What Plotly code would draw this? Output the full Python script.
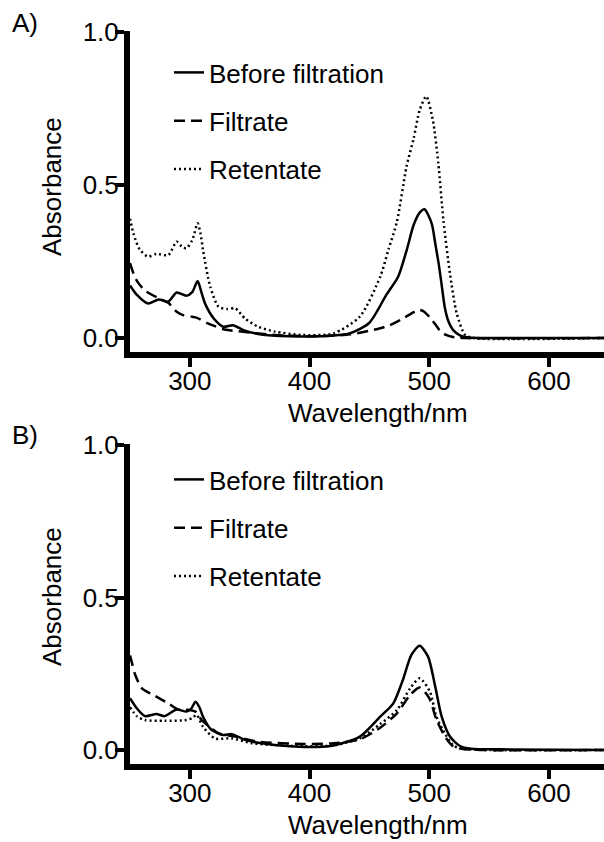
import plotly.graph_objects as go

# ---------------- Data ----------------
# Panel A
a_before_wl = [250, 256, 265, 274, 282, 289, 297, 302, 306.5, 310, 313, 320, 328, 336, 346, 363, 393, 420, 434, 450, 464, 474, 481, 487, 492, 496, 502, 505, 508, 510.5, 513, 516, 520, 526, 533, 560, 646]
a_before_abs = [0.172, 0.14, 0.113, 0.126, 0.119, 0.149, 0.138, 0.15, 0.186, 0.145, 0.11, 0.064, 0.037, 0.042, 0.024, 0.01, 0.005, 0.008, 0.016, 0.05, 0.14, 0.2, 0.285, 0.37, 0.41, 0.421, 0.375, 0.31, 0.24, 0.17, 0.10, 0.055, 0.026, 0.008, 0.002, 0.0, 0.0]

a_filtrate_wl = [250, 253, 256, 262.5, 274, 282, 289, 295, 301.5, 306, 315, 329, 343, 371, 400, 434, 459, 467, 476, 485, 491, 495, 500.6, 505, 509, 514, 519, 530, 646]
a_filtrate_abs = [0.245, 0.21, 0.185, 0.155, 0.13, 0.115, 0.086, 0.074, 0.07, 0.066, 0.048, 0.028, 0.021, 0.01, 0.006, 0.012, 0.032, 0.042, 0.059, 0.08, 0.092, 0.088, 0.067, 0.045, 0.024, 0.01, 0.004, 0.0, 0.0]

a_retentate_wl = [250, 253, 258, 265, 272, 282, 289, 293, 297, 302, 306.5, 309, 311, 317, 324, 331, 338, 346, 357, 371, 393, 420, 442, 459, 466, 473, 481, 487, 492, 497.5, 503, 507.6, 511.8, 517.3, 523, 530, 537, 646]
a_retentate_abs = [0.39, 0.34, 0.29, 0.266, 0.275, 0.271, 0.315, 0.3, 0.293, 0.32, 0.375, 0.34, 0.288, 0.168, 0.102, 0.095, 0.097, 0.064, 0.037, 0.021, 0.01, 0.015, 0.07, 0.2, 0.29, 0.38, 0.56, 0.653, 0.745, 0.79, 0.712, 0.571, 0.386, 0.211, 0.08, 0.01, 0.0, 0.0]

# Panel B
b_before_wl = [250, 256, 262.5, 272, 279, 289, 297, 301, 304.8, 308, 311, 318, 328, 335, 346, 371, 396, 420, 442, 459, 470, 478, 485, 492, 499, 505, 510.4, 517.3, 525.7, 535, 560, 646]
b_before_abs = [0.17, 0.135, 0.111, 0.118, 0.111, 0.133, 0.126, 0.135, 0.158, 0.14, 0.109, 0.066, 0.049, 0.052, 0.033, 0.016, 0.01, 0.015, 0.044, 0.109, 0.153, 0.23, 0.311, 0.342, 0.306, 0.208, 0.109, 0.044, 0.013, 0.004, 0.002, 0.0]

b_filtrate_wl = [250, 252, 254, 260, 271, 282, 290, 300, 305, 310, 324, 338, 357, 396, 420, 442, 459, 473, 484, 492, 500, 506, 513, 520, 528, 646]
b_filtrate_abs = [0.31, 0.28, 0.25, 0.202, 0.177, 0.153, 0.133, 0.131, 0.125, 0.098, 0.055, 0.044, 0.027, 0.02, 0.022, 0.035, 0.073, 0.12, 0.18, 0.205, 0.17, 0.1, 0.045, 0.012, 0.003, 0.0]

b_retentate_wl = [250, 256, 262.5, 279, 297, 302, 305.7, 311, 321, 335, 352, 396, 420, 442, 459, 473, 484, 492, 500.6, 506, 513, 520, 528, 646]
b_retentate_abs = [0.14, 0.11, 0.098, 0.096, 0.098, 0.105, 0.115, 0.076, 0.038, 0.038, 0.022, 0.012, 0.015, 0.038, 0.085, 0.131, 0.202, 0.235, 0.191, 0.109, 0.055, 0.015, 0.004, 0.0]

series_names = ["Before filtration", "Filtrate", "Retentate"]
x_ticks = [300, 400, 500, 600]
y_ticks = [0.0, 0.5, 1.0]
y_tick_text = ["0.0", "0.5", "1.0"]
panel_labels = ["A)", "B)"]
x_title = "Wavelength/nm"
y_title = "Absorbance"

# ---------------- Figure ----------------
W, H = 604, 842
FONT = "Liberation Sans, Arial, Helvetica, sans-serif"
FS = 26
dashes = ["solid", "11px,6px", "2px,3px"]

fig = go.Figure()
panels = [
    ("x", "y", "legend", [(a_before_wl, a_before_abs), (a_filtrate_wl, a_filtrate_abs), (a_retentate_wl, a_retentate_abs)]),
    ("x2", "y2", "legend2", [(b_before_wl, b_before_abs), (b_filtrate_wl, b_filtrate_abs), (b_retentate_wl, b_retentate_abs)]),
]
for xa, ya, lg, data in panels:
    for i, ((wl, ab), name) in enumerate(zip(data, series_names)):
        fig.add_trace(go.Scatter(
            x=wl, y=ab, name=name, mode="lines",
            line=dict(color="black", width=2.5, dash=dashes[i], shape="spline", smoothing=0.7),
            xaxis=xa, yaxis=ya, legend=lg, legendgroup=f"{lg}{i}",
            hoverinfo="skip",
        ))

def ypix(p):
    return 1 - p / H

x_dom = [130 / W, 1.0]
axis_common = dict(
    showline=True, linecolor="black", linewidth=6, ticks="outside", ticklen=9,
    tickwidth=4, tickcolor="black", showgrid=False, zeroline=False, automargin=False,
    tickfont=dict(family=FONT, size=FS, color="black"),
)

fig.update_layout(
    template="none",
    width=W, height=H, autosize=False,
    margin=dict(l=0, r=0, t=0, b=0, pad=0),
    paper_bgcolor="white", plot_bgcolor="white",
    font=dict(family=FONT, size=FS, color="black"),
    xaxis=dict(domain=x_dom, range=[250, 646], anchor="y", tickvals=x_ticks, ticklabelstandoff=-8, **axis_common),
    yaxis=dict(domain=[ypix(351.8), ypix(30.5)], range=[-0.045, 1.005], anchor="x",
               tickvals=y_ticks, ticktext=y_tick_text, ticklabelstandoff=-9, **axis_common),
    xaxis2=dict(domain=x_dom, range=[250, 646], anchor="y2", tickvals=x_ticks, ticklabelstandoff=-8, **axis_common),
    yaxis2=dict(domain=[ypix(763.7), ypix(443.5)], range=[-0.045, 1.005], anchor="x2",
                tickvals=y_ticks, ticktext=y_tick_text, ticklabelstandoff=-9, **axis_common),
    legend=dict(x=169 / W, y=ypix(49), xanchor="left", yanchor="top", bgcolor="rgba(0,0,0,0)",
                font=dict(family=FONT, size=FS, color="black"), itemwidth=30, tracegroupgap=11.5),
    legend2=dict(x=169 / W, y=ypix(456), xanchor="left", yanchor="top", bgcolor="rgba(0,0,0,0)",
                 font=dict(family=FONT, size=FS, color="black"), itemwidth=30, tracegroupgap=11.5),
    showlegend=True,
)

annos = []
for lbl, yc in zip(panel_labels, [23, 435]):
    annos.append(dict(text=lbl, x=10 / W, y=ypix(yc), xref="paper", yref="paper",
                      xanchor="left", yanchor="middle", showarrow=False,
                      font=dict(family=FONT, size=FS, color="black")))
for yc in [187, 597]:
    annos.append(dict(text=y_title, x=52 / W, y=ypix(yc), xref="paper", yref="paper",
                      xanchor="center", yanchor="middle", textangle=-90, showarrow=False,
                      font=dict(family=FONT, size=FS, color="black")))
for yc in [413, 825]:
    annos.append(dict(text=x_title, x=378 / W, y=ypix(yc), xref="paper", yref="paper",
                      xanchor="center", yanchor="middle", showarrow=False,
                      font=dict(family=FONT, size=FS, color="black")))
fig.update_layout(annotations=annos)

fig.write_html("out.html", config={"displayModeBar": False},
               post_script="document.body.style.margin='0px';document.body.style.overflow='hidden';")
